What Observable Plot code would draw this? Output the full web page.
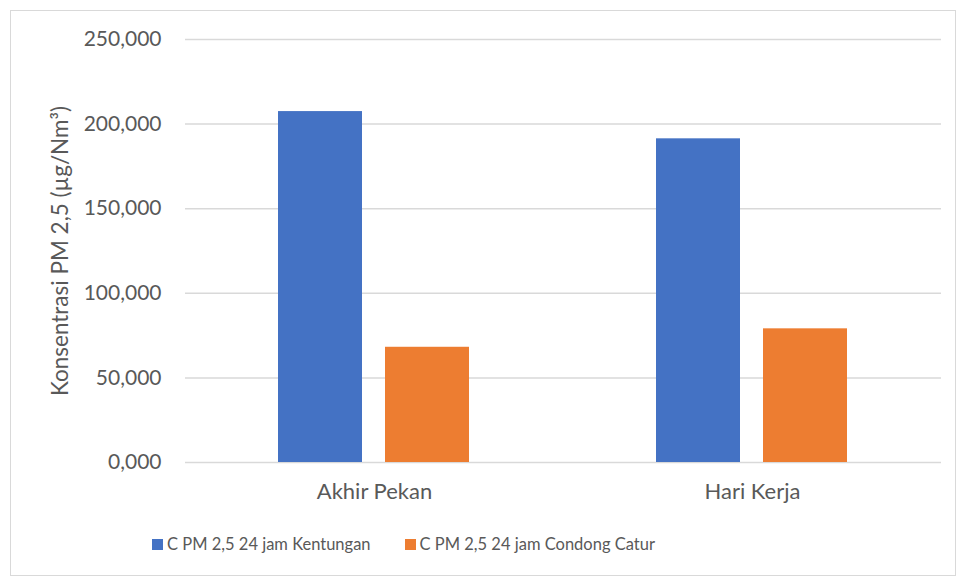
<!DOCTYPE html>
<html>
<head>
<meta charset="utf-8">
<script src="https://cdn.jsdelivr.net/npm/d3@7"></script>
<script src="https://cdn.jsdelivr.net/npm/@observablehq/plot@0.6"></script>
<style>
  html, body { margin: 0; padding: 0; background: #fff; }
  #wrap { position: relative; width: 958px; height: 579px; font-family: Lato, "Open Sans", sans-serif; color: #595959; }
  #border { position: absolute; left: 10px; top: 10px; width: 946px; height: 566px; border: 1px solid #d9d9d9; box-sizing: border-box; }
  #chart { position: absolute; left: 0; top: 0; }
  #legend { position: absolute; left: 152px; top: 534px; display: flex; align-items: center; font-size: 16.5px; white-space: nowrap; }
  .item { display: flex; align-items: center; }
  .sw { width: 11px; height: 11px; margin-right: 4px; }
</style>
</head>
<body>
<div id="wrap">
  <div id="border"></div>
  <div id="chart"></div>
  <div id="legend"></div>
</div>
<script>
// Periods (x groups) and monitoring sites (series)
const periods = ["Akhir Pekan", "Hari Kerja"];
const seriesNames = ["C PM 2,5 24 jam Kentungan", "C PM 2,5 24 jam Condong Catur"];
const colors = ["#4472C4", "#ED7D31"];

// 24-hour PM 2.5 concentration (µg/Nm³) per period
const kentungan = [207.4, 191.3];
const condongCatur = [68.1, 79.0];

const yTicks = [0, 50, 100, 150, 200, 250];

const rows = periods.flatMap((p, i) => [
  {period: p, series: seriesNames[0], value: kentungan[i]},
  {period: p, series: seriesNames[1], value: condongCatur[i]}
]);

// Indonesian number style: comma as decimal separator
const fmt = d => d3.format(".3f")(d).replace(".", ",");

const chart = Plot.plot({
  width: 958,
  height: 515,
  marginTop: 39,
  marginBottom: 53,
  marginLeft: 185,
  marginRight: 17,
  style: {fontFamily: "Lato, 'Open Sans', sans-serif", fontSize: "21px", color: "#595959", background: "transparent"},
  fx: {domain: periods, padding: 0, label: null},
  x: {domain: seriesNames, paddingInner: 0.213, paddingOuter: 0.857, axis: null},
  y: {domain: [0, 250], ticks: yTicks},
  color: {domain: seriesNames, range: colors},
  marks: [
    Plot.gridY(yTicks, {stroke: "#d9d9d9", strokeOpacity: 1, strokeWidth: 1.5}),
    Plot.barY(rows, {fx: "period", x: "series", y: "value", fill: "series"}),
    Plot.axisY(yTicks, {tickSize: 0, tickPadding: 24, tickFormat: fmt, label: null}),
    Plot.axisY({
      ticks: [], tickSize: 0, fontSize: 22.5,
      label: "Konsentrasi PM 2,5 (µg/Nm³)", labelAnchor: "center", labelOffset: 133, labelArrow: "none"
    }),
    Plot.axisFx({anchor: "bottom", tickSize: 0, tickPadding: 21, fontSize: 22, label: null})
  ]
});
document.getElementById("chart").appendChild(chart);

const legend = document.getElementById("legend");
seriesNames.forEach((name, i) => {
  const item = document.createElement("div");
  item.className = "item";
  if (i > 0) item.style.marginLeft = "34px";
  const sw = document.createElement("span");
  sw.className = "sw";
  sw.style.background = colors[i];
  const label = document.createElement("span");
  label.textContent = name;
  item.appendChild(sw);
  item.appendChild(label);
  legend.appendChild(item);
});
</script>
</body>
</html>
